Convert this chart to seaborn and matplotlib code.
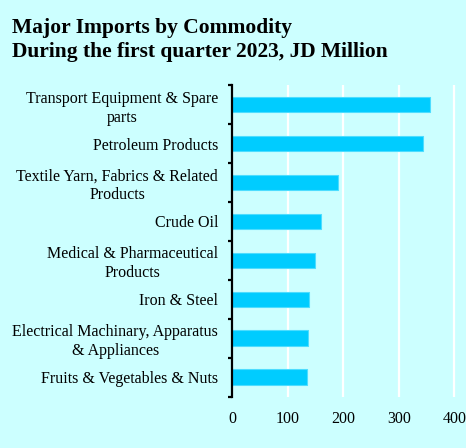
import matplotlib
matplotlib.use("Agg")
import matplotlib.pyplot as plt
import seaborn as sns
import pandas as pd
from matplotlib.ticker import FixedLocator

commodities = [
    "Transport Equipment & Spare\nparts",
    "Petroleum Products",
    "Textile Yarn, Fabrics & Related\nProducts",
    "Crude Oil",
    "Medical & Pharmaceutical\nProducts",
    "Iron & Steel",
    "Electrical Machinary, Apparatus\n& Appliances",
    "Fruits & Vegetables & Nuts",
]
values = [356, 343, 190, 160, 149, 139, 136, 134]
x_ticks = [0, 100, 200, 300, 400]

df = pd.DataFrame({"commodity": commodities, "value": values})

sns.set_theme(style="white")
plt.rcParams["font.family"] = ["Liberation Serif", "DejaVu Serif"]

bg = "#CCFFFF"
fig = plt.figure(figsize=(4.66, 4.48), dpi=100, facecolor=bg)
ax = fig.add_axes([0.498, 0.1145, 0.482, 0.6955], facecolor=bg)

sns.barplot(data=df, x="value", y="commodity", orient="h", width=0.4,
            color="#00CCFF", saturation=1, edgecolor="#4DDDFF", linewidth=0.8,
            ax=ax, zorder=3)

ax.set_xlim(0, 404)
ax.set_xticks(x_ticks)
ax.set_xticklabels([str(t) for t in x_ticks], fontsize=11.5)
ax.xaxis.grid(True, color="white", linewidth=1.6, zorder=0)
ax.set_axisbelow(True)
ax.set_xlabel("")
ax.set_ylabel("")

for s in ["top", "right", "bottom"]:
    ax.spines[s].set_visible(False)
ax.spines["left"].set_color("black")
ax.spines["left"].set_linewidth(1.6)
ax.spines["left"].set_zorder(5)

n = len(commodities)
ax.yaxis.set_minor_locator(FixedLocator([i - 0.5 for i in range(n + 1)]))
ax.tick_params(axis="y", which="minor", left=True, length=3, width=1.6, color="black", direction="out")
ax.tick_params(axis="y", which="major", left=True, length=0, pad=10, labelsize=11.5)
ax.tick_params(axis="x", which="both", bottom=False, length=0, pad=10, labelsize=11.5)
for lbl in ax.get_yticklabels():
    lbl.set_multialignment("center")
    lbl.set_linespacing(1.25)
    lbl.set_color("black")
for lbl in ax.get_xticklabels():
    lbl.set_color("black")

fig.text(0.026, 1 - 18 / 448,
         "Major Imports by Commodity\nDuring the first quarter 2023, JD Million",
         ha="left", va="top", fontsize=15.5, fontweight="bold", linespacing=1.3,
         color="black")

fig.savefig("out.png", dpi=100, facecolor=bg)
